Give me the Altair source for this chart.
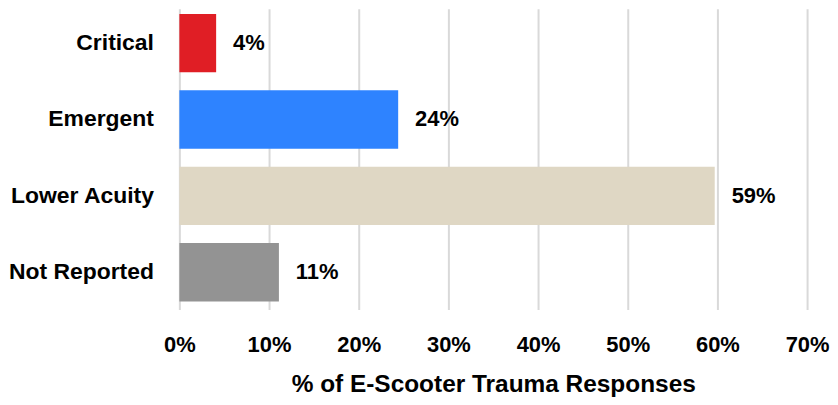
import altair as alt
import pandas as pd

categories = ["Critical", "Emergent", "Lower Acuity", "Not Reported"]
values = [4.1, 24.4, 59.7, 11.1]
labels = ["4%", "24%", "59%", "11%"]
colors = ["#E01E25", "#2E83FF", "#DFD7C4", "#939393"]
x_ticks = [0, 10, 20, 30, 40, 50, 60, 70]

df = pd.DataFrame({"cat": categories, "val": values, "lab": labels})

FONT = "Liberation Sans"

y_enc = alt.Y("cat:N", sort=categories, title=None,
              scale=alt.Scale(paddingInner=0.237, paddingOuter=0.088, align=0.39),
              axis=alt.Axis(labelFont=FONT, labelFontSize=23, labelFontWeight="bold",
                            labelColor="#000000", labelPadding=26, ticks=False,
                            domain=False, grid=False))
x_enc = alt.X("val:Q", title="% of E-Scooter Trauma Responses",
              scale=alt.Scale(domain=[0, 70], nice=False),
              axis=alt.Axis(values=x_ticks, labelExpr="datum.value + '%'",
                            labelFont=FONT, labelFontSize=22, labelFontWeight="bold",
                            labelColor="#000000", labelPadding=25, ticks=False,
                            labelFlush=False, labelOverlap=False,
                            domain=False, grid=True, gridColor="#D9D9D9", gridWidth=2,
                            titleFont=FONT, titleFontSize=24.5, titleFontWeight="bold",
                            titleColor="#000000", titlePadding=17))

bars = alt.Chart(df).mark_bar().encode(
    x=x_enc, y=y_enc,
    color=alt.Color("cat:N", scale=alt.Scale(domain=categories, range=colors), legend=None),
)
text = alt.Chart(df).mark_text(align="left", baseline="middle", dx=17, font=FONT,
                               fontSize=22, fontWeight="bold", color="#000000").encode(
    x="val:Q", y=alt.Y("cat:N", sort=categories), text="lab:N")

chart = (bars + text).properties(width=630, height=302, padding=0).configure_view(stroke=None)
chart.save("out.html", embed_options={"renderer": "svg", "actions": False})
